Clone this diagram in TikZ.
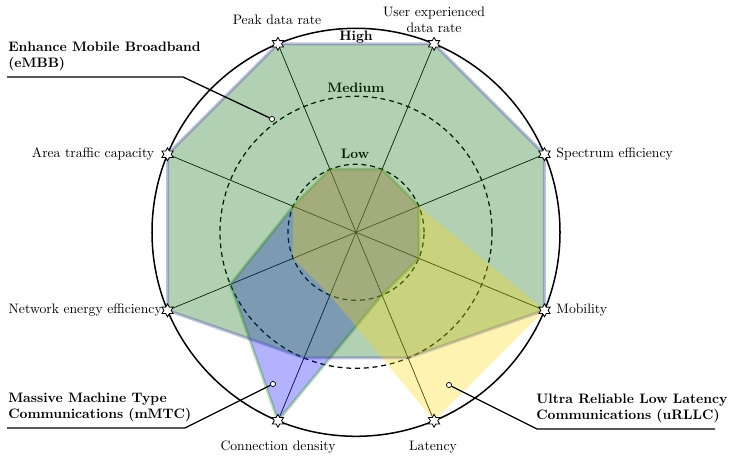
\documentclass[tikz,border=0pt]{standalone}
\usetikzlibrary{shapes.geometric}
\definecolor{embbfill}{RGB}{0,100,0}
\definecolor{embbedge}{RGB}{50,50,175}
\definecolor{mmtcedge}{RGB}{40,150,20}
\definecolor{urllcfill}{RGB}{255,215,0}
\begin{document}
\begin{tikzpicture}[x=0.73pt,y=0.73pt,
  vstar/.style={star, star points=6, star point ratio=1.75, draw=black, fill=white, line width=0.6pt, minimum size=9.4pt, inner sep=0pt},
  axisline/.style={line width=0.5pt},
  lvl/.style={line width=0.9pt, dash pattern=on 3.6pt off 2.8pt},
  region/.style={line width=2.2pt, opacity=0.3, line join=round},
  lvltext/.style={font=\bfseries, inner sep=1pt},
  axtext/.style={align=center, inner sep=1pt},
  catlabel/.style={font=\bfseries, align=left, anchor=south west, inner sep=0pt},
  pin/.style={circle, draw=black, fill=white, line width=0.5pt, minimum size=3.8pt, inner sep=0pt},
  leader/.style={line width=0.95pt}
]
\useasboundingbox (0,0) rectangle (731,457);
\begin{scope}[shift={(356,224.7)}]
  \coordinate (O) at (0,0);
  \coordinate (vpeak) at (112.5:204);
  \coordinate (vuser) at (67.5:204);
  \coordinate (vspec) at (22.5:204);
  \coordinate (vmob) at (-22.5:204);
  \coordinate (vlat) at (-67.5:204);
  \coordinate (vconn) at (-112.5:204);
  \coordinate (vnee) at (-157.5:204);
  \coordinate (vatc) at (157.5:204);
  % level circles
  \draw[lvl] (O) circle[radius=68];
  \draw[lvl] (O) circle[radius=136];
  \draw[line width=1.1pt] (O) circle[radius=204];
\end{scope}
% level labels (under fills)
\node[lvltext] (high) at (356,420) {High};
\node[lvltext] (medium) at (356,369) {Medium};
\node[lvltext] (low) at (355,303) {Low};
% axes
\draw[axisline] (vpeak) -- (vlat);
\draw[axisline] (vuser) -- (vconn);
\draw[axisline] (vspec) -- (vnee);
\draw[axisline] (vmob) -- (vatc);
% regions
\begin{scope}[shift={(356,224.7)}]
  % mMTC
  \draw[region, draw=mmtcedge, fill=blue]
    (112.5:68) -- (67.5:68) -- (22.5:68) -- (-22.5:68) -- (-67.5:68)
    -- (-112.5:204) -- (-157.5:136) -- (157.5:68) -- cycle;
  % eMBB
  \draw[region, draw=embbedge, fill=embbfill]
    (112.5:204) -- (67.5:204) -- (22.5:204) -- (-22.5:204) -- (-67.5:136)
    -- (-112.5:136) -- (-157.5:204) -- (157.5:204) -- cycle;
  % uRLLC
  \fill[region, fill=urllcfill]
    (112.5:68) -- (67.5:68) -- (22.5:68) -- (-22.5:204) -- (-67.5:204)
    -- (-112.5:68) -- (-157.5:68) -- (157.5:68) -- cycle;
\end{scope}
% stars
\node[vstar] (peak) at (vpeak) {};
\node[vstar] (user) at (vuser) {};
\node[vstar] (spec) at (vspec) {};
\node[vstar] (mob) at (vmob) {};
\node[vstar] (lat) at (vlat) {};
\node[vstar] (conn) at (vconn) {};
\node[vstar] (nee) at (vnee) {};
\node[vstar] (atc) at (vatc) {};
% axis labels
\node[axtext] (lpeak) at (277,437) {Peak data rate};
\node[axtext] (luser) at (434,437) {User experienced\\data rate};
\node[axtext, anchor=west] (lspec) at ([xshift=4.5pt]spec.east) {Spectrum efficiency};
\node[axtext, anchor=west] (lmob) at ([xshift=4.5pt]mob.east) {Mobility};
\node[axtext, anchor=east] (lnee) at ([xshift=0pt]nee.west) {Network energy efficiency};
\node[axtext, anchor=east] (latc) at ([xshift=-5.5pt]atc.west) {Area traffic capacity};
\node[axtext] (lconn) at (278,10) {Connection density};
\node[axtext] (llat) at (433,10) {Latency};
% category callouts
\node[catlabel] (embbtxt) at (8,385.5) {Enhance Mobile Broadband\\(eMBB)};
\coordinate (embbL) at (7,380);
\coordinate (embbK) at (183,380);
\node[pin] (embbpin) at (272,338) {};
\draw[leader] (embbL) -- (embbK) -- (embbpin);

\node[catlabel] (mmtctxt) at (8,34.5) {Massive Machine Type\\Communications (mMTC)};
\coordinate (mmtcL) at (7,29);
\coordinate (mmtcK) at (185,29);
\node[pin] (mmtcpin) at (273,73) {};
\draw[leader] (mmtcL) -- (mmtcK) -- (mmtcpin);

\node[catlabel] (urllctxt) at (536,33.5) {Ultra Reliable Low Latency\\Communications (uRLLC)};
\coordinate (urllcR) at (715,28);
\coordinate (urllcK) at (537,28);
\node[pin] (urllcpin) at (449,72) {};
\draw[leader] (urllcR) -- (urllcK) -- (urllcpin);
\end{tikzpicture}
\end{document}
